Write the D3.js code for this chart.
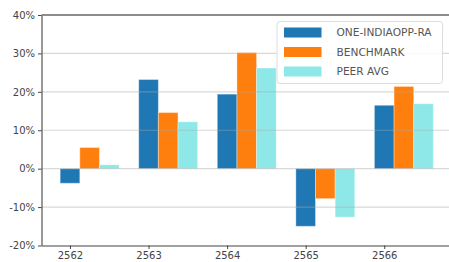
<!DOCTYPE html>
<html>
<head>
<meta charset="utf-8">
<script src="https://cdn.jsdelivr.net/npm/d3@7"></script>
<style>
  body { margin: 0; background: #fff; }
  svg { display: block; font-family: "DejaVu Sans", sans-serif; }
</style>
</head>
<body>
<div id="chart"></div>
<script>
// data (percent)
const years = ["2562", "2563", "2564", "2565", "2566"];
const seriesNames = ["ONE-INDIAOPP-RA", "BENCHMARK", "PEER AVG"];
const fundValues = [-3.8, 23.2, 19.4, -15.0, 16.5];
const benchValues = [5.5, 14.6, 30.2, -7.8, 21.4];
const peerValues = [1.0, 12.2, 26.2, -12.6, 16.9];
const yTicks = [-20, -10, 0, 10, 20, 30, 40];
const colors = ["#1f77b4", "#ff7f0e", "#8ee8e8"];

const W = 449, H = 262;
const margin = {left: 41.5, top: 15, right: -3, bottom: 16.5};
const barW = 0.25;

const svg = d3.select("#chart").append("svg")
    .attr("width", W)
    .attr("height", H);

// x in category units like matplotlib (bars at i, i+0.25, i+0.5)
const xMin = -barW / 2, xMax = years.length - 1 + 2 * barW + barW / 2;
const pad = (xMax - xMin) * 0.05;
const x = d3.scaleLinear()
    .domain([xMin - pad, xMax + pad])
    .range([margin.left, W - margin.right]);
const y = d3.scaleLinear()
    .domain([-20, 40])
    .range([H - margin.bottom, margin.top]);

const allSeries = [fundValues, benchValues, peerValues];

//Bars
allSeries.forEach((vals, s) => {
    svg.append("g").selectAll("rect")
        .data(vals)
        .join("rect")
        .attr("x", (d, i) => x(i + s * barW - barW / 2))
        .attr("width", x(barW) - x(0))
        .attr("y", d => y(Math.max(0, d)))
        .attr("height", d => Math.abs(y(d) - y(0)))
        .attr("fill", colors[s])
        .attr("stroke", "rgba(255,255,255,0.35)")
        .attr("stroke-width", 1);
});

//Grid on top of bars
svg.append("g").selectAll("line")
    .data(yTicks.filter(t => t > -20 && t < 40))
    .join("line")
    .attr("x1", margin.left).attr("x2", W)
    .attr("y1", d => y(d)).attr("y2", d => y(d))
    .attr("stroke", "rgba(170,170,170,0.45)")
    .attr("stroke-width", 1.2);

//Axes
const yAxis = d3.axisLeft(y)
    .tickValues(yTicks)
    .tickFormat(d => d + "%")
    .tickSizeInner(3.5)
    .tickSizeOuter(0)
    .tickPadding(3);
const gy = svg.append("g")
    .attr("transform", "translate(" + margin.left + ",0)")
    .call(yAxis);

const xAxis = d3.axisBottom(x)
    .tickValues(d3.range(years.length))
    .tickFormat(i => years[i])
    .tickSizeInner(3.5)
    .tickSizeOuter(0)
    .tickPadding(2.5);
const gx = svg.append("g")
    .attr("transform", "translate(0," + (H - margin.bottom) + ")")
    .call(xAxis);

[gx, gy].forEach(g => {
    g.select(".domain").attr("stroke", "#444").attr("stroke-width", 1.1);
    g.selectAll(".tick line").attr("stroke", "#444");
    g.selectAll(".tick text").attr("fill", "#444").attr("font-size", 10)
        .attr("font-family", "DejaVu Sans, sans-serif");
});

//Top spine
svg.append("line")
    .attr("x1", margin.left).attr("x2", W)
    .attr("y1", y(40)).attr("y2", y(40))
    .attr("stroke", "#666")
    .attr("stroke-width", 1.3);

//Legend
const lg = svg.append("g").attr("transform", "translate(277,21.5)");
lg.append("rect")
    .attr("width", 165.5).attr("height", 62)
    .attr("rx", 3)
    .attr("fill", "rgba(255,255,255,0.85)")
    .attr("stroke", "#ddd")
    .attr("stroke-width", 1);
seriesNames.forEach((name, i) => {
    const row = lg.append("g").attr("transform", "translate(0," + (11 + i * 19.5) + ")");
    row.append("rect")
        .attr("x", 7).attr("y", -5)
        .attr("width", 37.5).attr("height", 10)
        .attr("fill", colors[i]);
    row.append("text")
        .attr("x", 59.5).attr("y", 0)
        .attr("dy", "0.36em")
        .attr("font-size", 10.6)
        .attr("fill", "#555")
        .text(name);
});
</script>
</body>
</html>
